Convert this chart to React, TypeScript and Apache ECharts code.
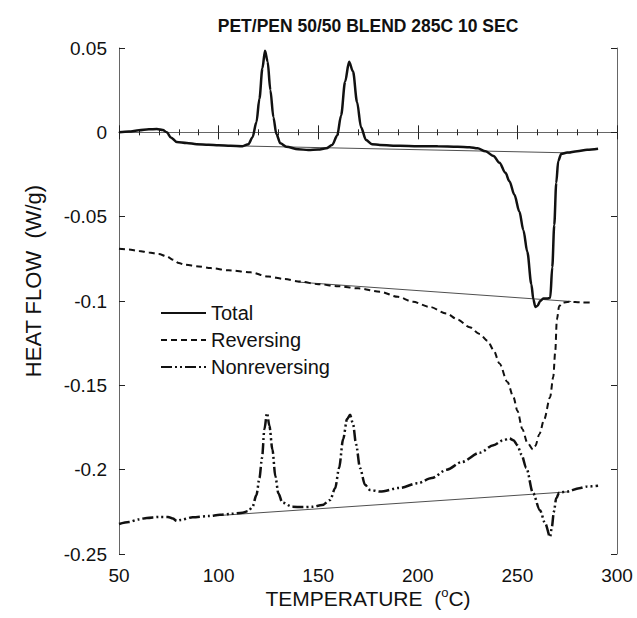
import React, { useEffect, useRef } from "react";
import * as echarts from "echarts";

const FONT = "'Liberation Sans', Arial, Helvetica, sans-serif";

const titleText = "PET/PEN 50/50 BLEND 285C 10 SEC";
const seriesNames = ["Total", "Reversing", "Nonreversing"];
const yTicks = [0.05, 0, -0.05, -0.1, -0.15, -0.2, -0.25];

const totalT = [50, 55, 60, 65, 69, 72, 74, 76, 79, 84, 89, 95, 100, 106, 112, 115, 117, 119, 120.5, 122, 123.3, 124.6, 126, 127.5, 129, 131, 134, 140, 145, 150, 154, 157, 159.5, 161.5, 163.5, 165.5, 167.5, 169.5, 171.5, 174, 177, 181, 191, 200, 210, 220, 226, 230, 234, 238, 241, 244, 246, 248.5, 251, 253, 255, 257, 258, 259, 260, 261.5, 263, 265, 266.5, 267.5, 268.5, 269.5, 270.5, 272, 275, 280, 285, 290.5];
const totalV = [0.0, 0.0005, 0.0012, 0.0018, 0.002, 0.0014, 0.0, -0.003, -0.0057, -0.0063, -0.007, -0.0074, -0.0077, -0.008, -0.0082, -0.007, -0.003, 0.006, 0.02, 0.038, 0.0484, 0.042, 0.025, 0.009, -0.001, -0.0065, -0.0085, -0.01, -0.0105, -0.0102, -0.0095, -0.0075, -0.002, 0.01, 0.03, 0.0418, 0.036, 0.018, 0.003, -0.0045, -0.007, -0.0075, -0.008, -0.0082, -0.0083, -0.0085, -0.0088, -0.0095, -0.0112, -0.014, -0.018, -0.024, -0.029, -0.037, -0.047, -0.058, -0.071, -0.09, -0.099, -0.1035, -0.103, -0.1, -0.0985, -0.0985, -0.098, -0.08, -0.055, -0.03, -0.017, -0.0128, -0.012, -0.0112, -0.0104, -0.0098];

const revT = [50, 55, 60, 65, 70, 74, 77, 80, 83, 90, 96, 105, 116, 125, 133, 141, 150, 160, 170, 181, 190, 197.6, 206, 214.6, 220, 226, 231, 235, 238, 241, 245, 248, 250, 252.5, 255, 257.8, 259, 261, 263.5, 266.4, 268, 269, 269.8, 271, 272.5, 276, 282, 288];
const revV = [-0.069, -0.0695, -0.0703, -0.0712, -0.0722, -0.0735, -0.0755, -0.0775, -0.0785, -0.0795, -0.0805, -0.0818, -0.083, -0.0855, -0.087, -0.0885, -0.09, -0.0912, -0.0925, -0.0945, -0.0975, -0.1005, -0.1035, -0.1075, -0.111, -0.1155, -0.1195, -0.1235, -0.129, -0.137, -0.148, -0.157, -0.165, -0.176, -0.184, -0.188, -0.186, -0.179, -0.17, -0.157, -0.145, -0.13, -0.111, -0.103, -0.101, -0.1005, -0.1008, -0.101];

const nonT = [50, 55, 60, 64, 70, 74.6, 77, 79, 81, 87, 95, 100.7, 106, 112, 115, 117, 119, 120.5, 121.8, 123, 124.3, 125.5, 127, 128.5, 130, 132, 137, 142, 147, 152, 156, 158.5, 160.5, 162.5, 164.5, 166, 167.5, 169, 171, 173.5, 176, 181, 191, 200, 207, 214.6, 222, 231, 238, 243, 246, 248, 250, 252, 254.5, 257.8, 261.3, 264, 266.4, 267.3, 268.3, 269.5, 271, 275, 281, 285, 290.5];
const nonV = [-0.2322, -0.231, -0.2295, -0.2286, -0.228, -0.228, -0.229, -0.2304, -0.2298, -0.2282, -0.2275, -0.2268, -0.2262, -0.2255, -0.2245, -0.222, -0.215, -0.205, -0.193, -0.176, -0.1664, -0.174, -0.188, -0.204, -0.214, -0.2195, -0.222, -0.2222, -0.222, -0.221, -0.218, -0.211, -0.199, -0.182, -0.17, -0.1675, -0.173, -0.185, -0.199, -0.209, -0.212, -0.213, -0.2108, -0.208, -0.205, -0.2, -0.1955, -0.19, -0.1855, -0.1825, -0.1815, -0.1825, -0.1855, -0.191, -0.199, -0.2138, -0.224, -0.232, -0.2399, -0.234, -0.225, -0.217, -0.2135, -0.213, -0.211, -0.21, -0.2095];

// thin straight baselines (start/end points)
const baseTotalT = [100, 277];
const baseTotalV = [-0.0078, -0.0122];
const baseRevT = [140, 277];
const baseRevV = [-0.0888, -0.1003];
const baseNonT = [100, 276];
const baseNonV = [-0.2272, -0.2131];

const zip = (a: number[], b: number[]) => a.map((x, i) => [x, b[i]]);

export default function App() {
  const ref = useRef<HTMLDivElement>(null);
  useEffect(() => {
    if (!ref.current) return;
    const chart = echarts.init(ref.current, null, { renderer: "svg" });
    const axisLineStyle = { color: "#666", width: 1 };
    const fmtY = (v: number) => {
      const hit = yTicks.find((t) => Math.abs(t - v) < 1e-9);
      return hit === undefined ? "" : String(hit);
    };
    const curve = (name: string, data: number[][], width: number, type: any) => ({
      name,
      type: "line",
      data,
      symbol: "none",
      smooth: 0.3,
      smoothMonotone: "x",
      lineStyle: { color: "#111", width, type },
      itemStyle: { color: "#111" },
      z: 3,
    });
    const base = (data: number[][]) => ({
      type: "line",
      data,
      symbol: "none",
      silent: true,
      lineStyle: { color: "#222", width: 0.8 },
      z: 2,
    });
    chart.setOption({
      animation: false,
      backgroundColor: "#fff",
      grid: { left: 119, right: 20, top: 48, bottom: 64 },
      legend: {
        data: seriesNames,
        orient: "vertical",
        left: 155,
        top: 298,
        itemWidth: 45,
        itemHeight: 14,
        itemGap: 7,
        itemStyle: { opacity: 0, borderWidth: 0 },
        textStyle: { fontSize: 20, color: "#111", fontFamily: FONT },
      },
      xAxis: [
        {
          type: "value",
          min: 50,
          max: 300,
          interval: 50,
          axisLine: { lineStyle: axisLineStyle },
          axisTick: { inside: true, length: 7, lineStyle: { color: "#222" } },
          minorTick: { show: true, splitNumber: 5, length: 3, lineStyle: { color: "#222" } },
          splitLine: { show: false },
          axisLabel: { fontSize: 19, color: "#111", fontFamily: FONT, margin: 12 },
        },
        {
          type: "value",
          position: "top",
          min: 50,
          max: 300,
          interval: 50,
          axisLine: { lineStyle: axisLineStyle },
          axisTick: { inside: true, length: 7, lineStyle: { color: "#222" } },
          minorTick: { show: true, splitNumber: 5, length: 3, lineStyle: { color: "#222" } },
          splitLine: { show: false },
          axisLabel: { show: false },
        },
      ],
      yAxis: [
        {
          type: "value",
          min: -0.25,
          max: 0.05,
          interval: 0.05,
          axisLine: { lineStyle: axisLineStyle },
          axisTick: { inside: true, length: 6, lineStyle: { color: "#222" } },
          splitLine: { show: false },
          axisLabel: { fontSize: 19, color: "#111", fontFamily: FONT, margin: 12, formatter: fmtY },
        },
        {
          type: "value",
          position: "right",
          min: -0.25,
          max: 0.05,
          interval: 0.05,
          axisLine: { lineStyle: axisLineStyle },
          axisTick: { inside: true, length: 6, lineStyle: { color: "#222" } },
          splitLine: { show: false },
          axisLabel: { show: false },
        },
      ],
      graphic: [
        {
          type: "text",
          x: 368,
          y: 26,
          style: {
            text: titleText,
            fontSize: 17.5,
            fontWeight: "bold",
            fontFamily: FONT,
            fill: "#111",
            align: "center",
            verticalAlign: "middle",
          },
        },
        {
          type: "text",
          x: 368,
          y: 598,
          style: {
            text: "TEMPERATURE  ({s|o}C)",
            fontSize: 21,
            fontFamily: FONT,
            fill: "#111",
            align: "center",
            verticalAlign: "middle",
            rich: { s: { fontSize: 13, fontFamily: FONT, fill: "#111", padding: [0, 0, 12, 0] } },
          },
        },
        {
          type: "text",
          x: 33,
          y: 281,
          rotation: Math.PI / 2,
          style: {
            text: "HEAT FLOW  (W/g)",
            fontSize: 22,
            fontFamily: FONT,
            fill: "#111",
            align: "center",
            verticalAlign: "middle",
          },
        },
      ],
      series: [
        curve("Total", zip(totalT, totalV), 2.5, "solid"),
        curve("Reversing", zip(revT, revV), 2, [6, 4]),
        curve("Nonreversing", zip(nonT, nonV), 2.5, [11, 3, 2, 3, 2, 3]),
        base(zip(baseTotalT, baseTotalV)),
        base(zip(baseRevT, baseRevV)),
        base(zip(baseNonT, baseNonV)),
      ],
    });
    return () => chart.dispose();
  }, []);
  return (
    <div
      ref={ref}
      style={{ position: "absolute", left: 0, top: 0, width: 637, height: 618 }}
    />
  );
}
